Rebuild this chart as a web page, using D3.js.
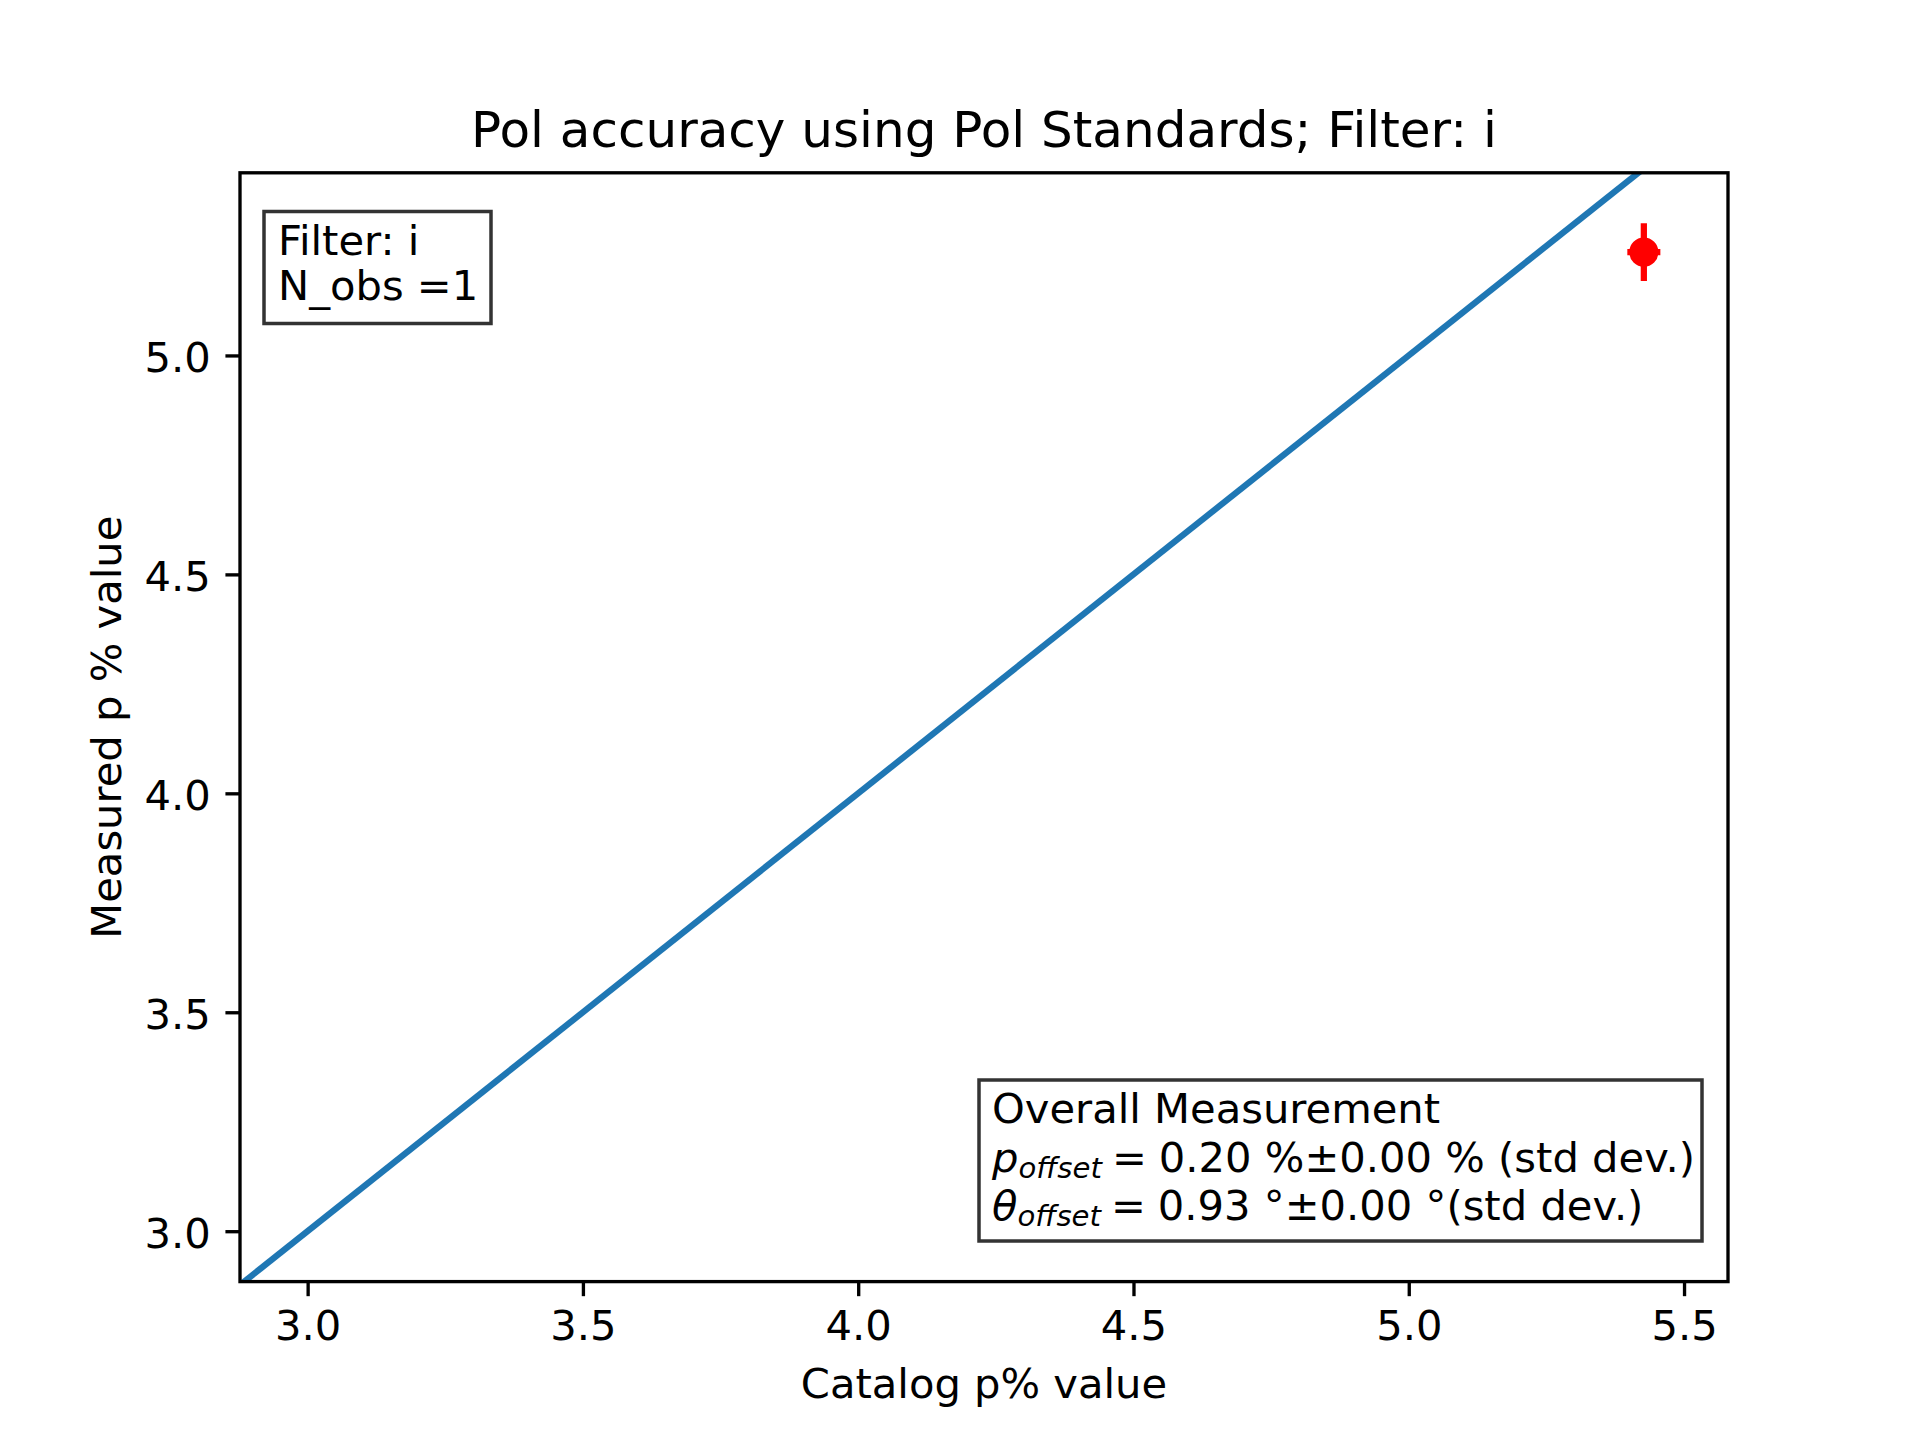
<!DOCTYPE html>
<html>
<head>
<meta charset="utf-8">
<script src="https://cdn.jsdelivr.net/npm/d3@7"></script>
<style>
  body { margin: 0; background: #fff; }
  svg { display: block; font-family: "DejaVu Sans", sans-serif; }
</style>
</head>
<body>
<div id="wrapper"></div>
<script>
// data
const catalogP = [5.427];
const measuredP = [5.236];
const catalogErr = [0.03];
const measuredErr = [0.066];
const axisFloor = 3.0; // lower end of the plotted data on both axes
const xTicks = [3.0, 3.5, 4.0, 4.5, 5.0, 5.5];
const yTicks = [3.0, 3.5, 4.0, 4.5, 5.0];
const titleText = "Pol accuracy using Pol Standards; Filter: i";
const xLabelText = "Catalog p% value";
const yLabelText = "Measured p % value";
const infoLines = ["Filter: i", "N_obs =1"];
const pOffset = ["0.20", "0.00"];
const thetaOffset = ["0.93", "0.00"];

async function drawChart() {
  const pt = 300 / 72; // figure was saved at 300 dpi

  // 1. dimensions
  let dimensions = {
    width: 1920,
    height: 1440,
    margin: { top: 172.8, right: 192, bottom: 158.4, left: 240 },
  };
  dimensions.boundedWidth =
    dimensions.width - dimensions.margin.left - dimensions.margin.right;
  dimensions.boundedHeight =
    dimensions.height - dimensions.margin.top - dimensions.margin.bottom;

  // 2. scales (5% margins like matplotlib autoscale)
  const pad = (ext) => {
    const r = ext[1] - ext[0];
    return [ext[0] - 0.05 * r, ext[1] + 0.05 * r];
  };
  const xExtent = [axisFloor, d3.max(catalogP.map((d, i) => d + catalogErr[i]))];
  const yExtent = [axisFloor, d3.max(measuredP.map((d, i) => d + measuredErr[i]))];

  const xScale = d3.scaleLinear().domain(pad(xExtent)).range([0, dimensions.boundedWidth]);
  const yScale = d3.scaleLinear().domain(pad(yExtent)).range([dimensions.boundedHeight, 0]);

  // 3. canvas
  const wrapper = d3
    .select("#wrapper")
    .append("svg")
    .attr("width", dimensions.width)
    .attr("height", dimensions.height);

  wrapper.append("defs")
    .append("clipPath")
    .attr("id", "plot-clip")
    .append("rect")
    .attr("width", dimensions.boundedWidth)
    .attr("height", dimensions.boundedHeight);

  const bounds = wrapper
    .append("g")
    .attr("transform", `translate(${dimensions.margin.left},${dimensions.margin.top})`);

  // 4. data
  const plot = bounds.append("g").attr("clip-path", "url(#plot-clip)");

  // 1:1 line across the whole x range
  const lineData = xScale.domain().map((v) => [v, v]);
  plot.append("path")
    .datum(lineData)
    .attr("fill", "none")
    .attr("stroke", "#1f77b4")
    .attr("stroke-width", 1.5 * pt)
    .attr("d", d3.line().x((d) => xScale(d[0])).y((d) => yScale(d[1])));

  const points = catalogP.map((d, i) => ({
    x: d, y: measuredP[i], xerr: catalogErr[i], yerr: measuredErr[i],
  }));

  const errGroup = plot.selectAll(".err").data(points).join("g").attr("class", "err");
  errGroup.append("line")
    .attr("x1", (d) => xScale(d.x)).attr("x2", (d) => xScale(d.x))
    .attr("y1", (d) => yScale(d.y - d.yerr)).attr("y2", (d) => yScale(d.y + d.yerr))
    .attr("stroke", "red").attr("stroke-width", 1.5 * pt);
  errGroup.append("line")
    .attr("x1", (d) => xScale(d.x - d.xerr)).attr("x2", (d) => xScale(d.x + d.xerr))
    .attr("y1", (d) => yScale(d.y)).attr("y2", (d) => yScale(d.y))
    .attr("stroke", "red").attr("stroke-width", 1.5 * pt);
  errGroup.append("circle")
    .attr("cx", (d) => xScale(d.x)).attr("cy", (d) => yScale(d.y))
    .attr("r", 3 * pt)
    .attr("fill", "red").attr("stroke", "red").attr("stroke-width", 1 * pt);

  // 5. peripherals
  const fs = 10 * pt;
  const xAxis = d3.axisBottom(xScale).tickValues(xTicks).tickFormat(d3.format(".1f"))
    .tickSize(3.5 * pt).tickSizeOuter(0).tickPadding(3.5 * pt);
  const yAxis = d3.axisLeft(yScale).tickValues(yTicks).tickFormat(d3.format(".1f"))
    .tickSize(3.5 * pt).tickSizeOuter(0).tickPadding(3.5 * pt);

  const xg = bounds.append("g")
    .attr("transform", `translate(0,${dimensions.boundedHeight})`)
    .call(xAxis);
  const yg = bounds.append("g").call(yAxis);

  [xg, yg].forEach((g) => {
    g.select(".domain").remove();
    g.selectAll(".tick line").attr("stroke", "#000").attr("stroke-width", 0.8 * pt);
    g.selectAll(".tick text")
      .attr("fill", "#000")
      .style("font-size", `${fs}px`)
      .style("font-family", "DejaVu Sans");
  });
  yg.selectAll(".tick text").attr("dy", "0.38em");

  // spines
  bounds.append("rect")
    .attr("width", dimensions.boundedWidth)
    .attr("height", dimensions.boundedHeight)
    .attr("fill", "none")
    .attr("stroke", "#000")
    .attr("stroke-width", 0.8 * pt);

  // title and axis labels
  wrapper.append("text")
    .attr("x", dimensions.margin.left + dimensions.boundedWidth / 2)
    .attr("y", 147)
    .attr("text-anchor", "middle")
    .style("font-size", `${12 * pt}px`)
    .text(titleText);

  wrapper.append("text")
    .attr("x", dimensions.margin.left + dimensions.boundedWidth / 2)
    .attr("y", 1398)
    .attr("text-anchor", "middle")
    .style("font-size", `${fs}px`)
    .text(xLabelText);

  wrapper.append("text")
    .attr("transform", `translate(121,${dimensions.margin.top + dimensions.boundedHeight / 2}) rotate(-90)`)
    .attr("text-anchor", "middle")
    .style("font-size", `${fs}px`)
    .text(yLabelText);

  // info box, top left
  const info = wrapper.append("g");
  info.append("rect")
    .attr("x", 264).attr("y", 211.5).attr("width", 227).attr("height", 112)
    .attr("fill", "#fff").attr("stroke", "#333").attr("stroke-width", 3.5);
  info.selectAll("text")
    .data(infoLines)
    .join("text")
    .attr("x", 278)
    .attr("y", (d, i) => 255 + i * 45)
    .style("font-size", `${fs}px`)
    .text((d) => d);

  // overall measurement box, bottom right
  const overall = wrapper.append("g");
  overall.append("rect")
    .attr("x", 979).attr("y", 1080).attr("width", 723).attr("height", 161)
    .attr("fill", "#fff").attr("stroke", "#333").attr("stroke-width", 3.5);

  const tx = 992;
  overall.append("text")
    .attr("x", tx).attr("y", 1123)
    .style("font-size", `${fs}px`)
    .text("Overall Measurement");

  const mathLine = (symbol, y, value, rest) => {
    const t = overall.append("text")
      .attr("x", tx).attr("y", y)
      .style("font-size", `${fs}px`);
    t.append("tspan").attr("font-style", "italic").text(symbol);
    t.append("tspan").attr("font-style", "italic")
      .style("font-size", `${fs * 0.7}px`).attr("dy", 6).text("offset");
    t.append("tspan").attr("dy", -6).attr("dx", 10).text("=");
    t.append("tspan").attr("dx", 12).text(value);
    t.append("tspan").text(rest);
  };
  mathLine("p", 1172, pOffset[0], ` %\u00b1${pOffset[1]} % (std dev.)`);
  mathLine("\u03b8", 1220, thetaOffset[0], ` \u00b0\u00b1${thetaOffset[1]} \u00b0(std dev.)`);
}
drawChart();
</script>
</body>
</html>
